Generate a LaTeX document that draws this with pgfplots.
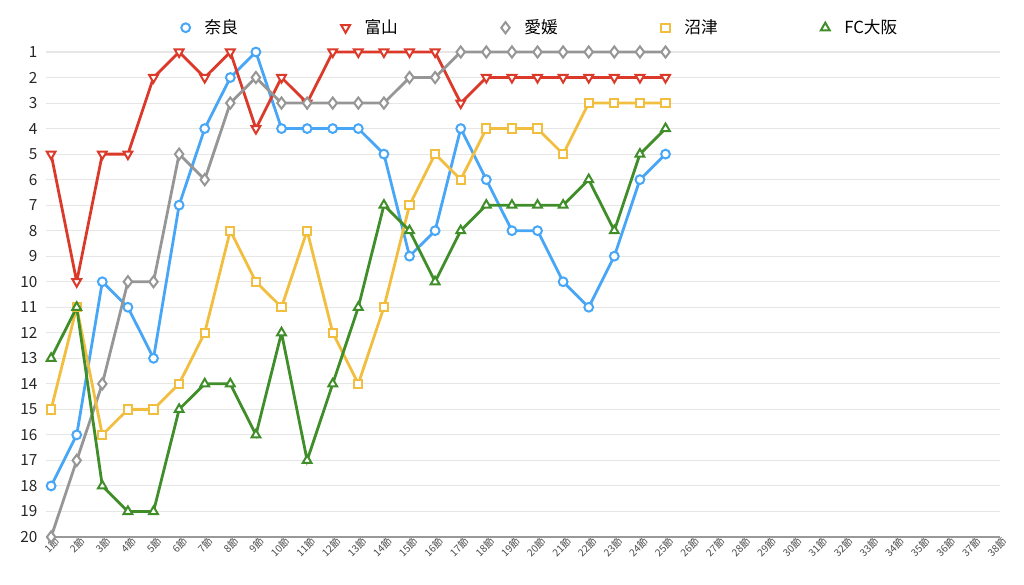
\documentclass[border=0pt]{standalone}
\usepackage{fontspec}
\setmainfont{Noto Sans CJK JP}
\usepackage{pgfplots}
\pgfplotsset{compat=1.18}
\usepackage{pgfplotstable}

\definecolor{cnara}{RGB}{72,166,246}
\definecolor{ctoyama}{RGB}{219,58,42}
\definecolor{cehime}{RGB}{150,150,150}
\definecolor{cnumazu}{RGB}{242,190,64}
\definecolor{cosaka}{RGB}{64,142,42}
\definecolor{cgrid}{RGB}{230,230,230}

% 節, 奈良, 富山, 愛媛, 沼津, FC大阪
\pgfplotstableread{
r  nara toyama ehime numazu osaka
1  18   5      20    15     13
2  16   10     17    11     11
3  10   5      14    16     18
4  11   5      10    15     19
5  13   2      10    15     19
6  7    1      5     14     15
7  4    2      6     12     14
8  2    1      3     8      14
9  1    4      2     10     16
10 4    2      3     11     12
11 4    3      3     8      17
12 4    1      3     12     14
13 4    1      3     14     11
14 5    1      3     11     7
15 9    1      2     7      8
16 8    1      2     5      10
17 4    3      1     6      8
18 6    2      1     4      7
19 8    2      1     4      7
20 8    2      1     4      7
21 10   2      1     5      7
22 11   2      1     3      6
23 9    2      1     3      8
24 6    2      1     3      5
25 5    2      1     3      4
}\ranks

\begin{document}
\begin{tikzpicture}[x=0.75pt,y=0.75pt]
\path[use as bounding box] (-46,-48) rectangle (978,537);
\begin{axis}[
  at={(0,0)}, anchor=south west,
  scale only axis,
  width=715.2pt, height=363.75pt,
  xmin=0.8, xmax=38.05,
  ymin=1, ymax=20,
  y dir=reverse,
  axis line style={draw=none},
  xtick={1,...,38},
  ytick={1,...,20},
  major tick length=0pt,
  ymajorgrids=true,
  grid style={cgrid, line width=0.8pt},
  xticklabel={\pgfmathtruncatemacro{\xn}{\tick}\xn 節},
  xticklabel style={font=\fontsize{7.6}{7.6}\selectfont, text=black!70, rotate=45, anchor=north east, inner sep=0pt, xshift=2pt, yshift=-1pt},
  yticklabel style={font=\fontsize{11.5}{13}\selectfont, text=black!85, anchor=east, xshift=-3pt,
    /pgf/number format/assume math mode=true},
  legend columns=5,
  legend style={at={(0.517,1)}, anchor=south, yshift=8pt, draw=none, fill=none,
    font=\fontsize{12.5}{14}\selectfont,
    /tikz/every even column/.append style={column sep=73pt}},
  legend image code/.code={\path[draw=none] (0cm,0cm) -- (0.63cm,0cm); \draw[#1] plot coordinates {(0.2cm,0cm)};},
  every axis plot/.append style={line width=2.1pt},
  clip=false,
]
\draw[black!40, line width=1.2pt] (axis cs:0.8,20) -- (axis cs:38.05,20);
\addplot[cnara, mark=*, mark size=3.3pt, mark options={fill=white, line width=1.5pt, solid}] table[x=r, y=nara] {\ranks};
\addlegendentry{奈良}
\addplot[ctoyama, mark=triangle*, mark size=3.8pt, mark options={fill=white, line width=1.5pt, solid, rotate=180}] table[x=r, y=toyama] {\ranks};
\addlegendentry{富山}
\addplot[cehime, mark=diamond*, mark size=4.2pt, mark options={fill=white, line width=1.5pt, solid}] table[x=r, y=ehime] {\ranks};
\addlegendentry{愛媛}
\addplot[cnumazu, mark=square*, mark size=3.1pt, mark options={fill=white, line width=1.5pt, solid}] table[x=r, y=numazu] {\ranks};
\addlegendentry{沼津}
\addplot[cosaka, mark=triangle*, mark size=3.8pt, mark options={fill=white, line width=1.5pt, solid}] table[x=r, y=osaka] {\ranks};
\addlegendentry{FC大阪}
\end{axis}
\end{tikzpicture}
\end{document}
